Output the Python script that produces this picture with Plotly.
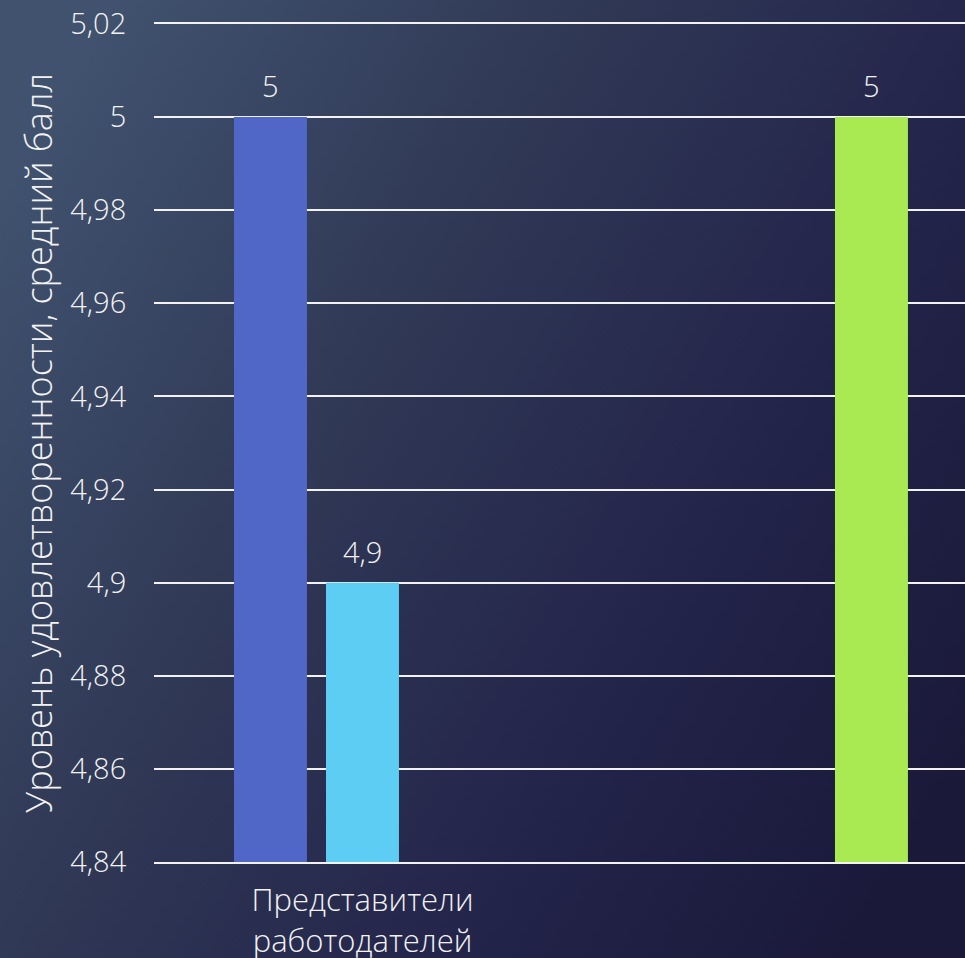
import base64
import plotly.graph_objects as go

# ---- data ----
categories = ["Представители<br>работодателей", "Группа 2"]
category_labels = ["Представители<br>работодателей", ""]
series_names = ["Ряд 1", "Ряд 2", "Ряд 3"]
series_values = [
    [5.0, None],
    [4.9, None],
    [None, 5.0],
]
series_colors = ["#5067C8", "#5ECDF3", "#A9EA52"]
y_tick_values = [4.84, 4.86, 4.88, 4.90, 4.92, 4.94, 4.96, 4.98, 5.00, 5.02]
y_tick_labels = ["4,84", "4,86", "4,88", "4,9", "4,92", "4,94", "4,96", "4,98", "5", "5,02"]
y_title = "Уровень удовлетворенности, средний балл"

W, H = 965, 958
ML, MR, MT, MB = 154, 0, 24, 96
PW, PH = W - ML - MR, H - MT - MB

FONT = "Open Sans"
TXT = "#F2F2F2"
N_SERIES = len(series_names)
SLOT_PX = 92  # horizontal distance between neighbouring bars of a group (style)


def fmt(v):
    return f"{v:g}".replace(".", ",")


fig = go.Figure()
for name, vals, col in zip(series_names, series_values, series_colors):
    fig.add_trace(go.Bar(
        name=name, x=categories, y=vals,
        marker=dict(color=col, line=dict(width=0)),
        hoverinfo="x+y",
    ))

# value labels above the bars
for i, vals in enumerate(series_values):
    for cat, v in zip(categories, vals):
        if v is None:
            continue
        fig.add_annotation(
            x=cat, y=v, text=fmt(v), showarrow=False,
            xref="x", yref="y", yanchor="bottom",
            xshift=(i - (N_SERIES - 1) / 2) * SLOT_PX, yshift=10,
            font=dict(family=FONT, size=29, color=TXT, weight=300),
        )

svg = f"""<svg xmlns='http://www.w3.org/2000/svg' width='{W}' height='{H}' viewBox='0 0 {W} {H}' preserveAspectRatio='none'>
<defs>
<linearGradient id='g' x1='0' y1='0.2' x2='1' y2='0.8'>
<stop offset='0' stop-color='#40526E'/>
<stop offset='0.35' stop-color='#303956'/>
<stop offset='0.7' stop-color='#23244A'/>
<stop offset='1' stop-color='#1A193A'/>
</linearGradient>
</defs>
<rect width='{W}' height='{H}' fill='url(#g)'/>
</svg>"""
uri = "data:image/svg+xml;base64," + base64.b64encode(svg.encode()).decode()

fig.add_layout_image(dict(
    source=uri, xref="paper", yref="paper",
    x=-ML / PW, y=1 + MT / PH, sizex=W / PW, sizey=H / PH,
    xanchor="left", yanchor="top", sizing="stretch", layer="below",
))

fig.update_layout(
    width=W, height=H,
    margin=dict(l=ML, r=MR, t=MT, b=MB, pad=0, autoexpand=False),
    paper_bgcolor="#2A2D4C", plot_bgcolor="rgba(0,0,0,0)",
    barmode="group", bargap=0.338, bargroupgap=0.207,
    showlegend=False,
    font=dict(family=FONT, color=TXT),
    separators=", ",
)
fig.update_xaxes(
    type="category", range=[-0.5, 1.445], automargin=False,
    tickvals=categories, ticktext=category_labels,
    tickfont=dict(family=FONT, size=31, color=TXT, weight=300),
    ticks="outside", ticklen=10, tickcolor="rgba(0,0,0,0)",
    showgrid=False, showline=True, mirror=True, linecolor="#F2F2F2", linewidth=2,
)
fig.update_yaxes(
    range=[4.84, 5.02], automargin=False,
    tickvals=y_tick_values, ticktext=y_tick_labels,
    tickfont=dict(family=FONT, size=29, color=TXT, weight=300),
    ticks="outside", ticklen=21, tickcolor="rgba(0,0,0,0)",
    showgrid=True, gridcolor="#F2F2F2", gridwidth=2,
    zeroline=False, showline=False,
    title=dict(text=y_title, font=dict(family=FONT, size=36, color=TXT, weight=300), standoff=6),
)

fig.write_html(
    "out.html",
    config={"displayModeBar": False},
    post_script="document.body.style.margin='0';document.body.style.padding='0';document.body.style.overflow='hidden';",
)
